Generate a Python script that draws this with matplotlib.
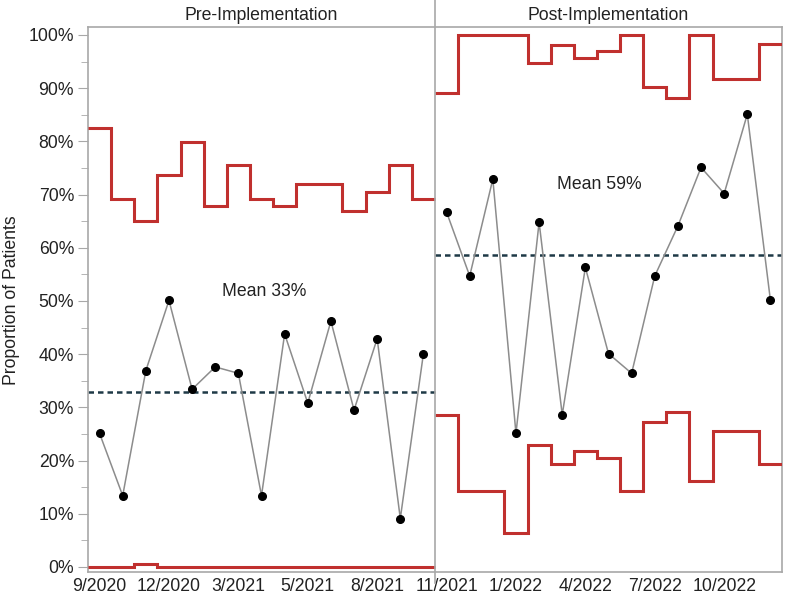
import numpy as np
import matplotlib
matplotlib.use("Agg")
import matplotlib.pyplot as plt
from matplotlib.ticker import MultipleLocator, FuncFormatter
import matplotlib.transforms as mtransforms

plt.rcParams['font.family'] = ['Liberation Sans', 'DejaVu Sans']

# ---- data ----
phases = ["Pre-Implementation", "Post-Implementation"]
pre_values = [25.1, 13.4, 36.9, 50.1, 33.4, 37.6, 36.4, 13.4, 43.8, 30.8, 46.2, 29.5, 42.9, 9.1, 40.1]
post_values = [66.7, 54.7, 72.9, 25.1, 64.8, 28.6, 56.3, 40.1, 36.4, 54.7, 64.1, 75.1, 70.2, 85.1, 50.1]
pre_ucl = [82.6, 69.2, 65.1, 73.7, 79.8, 67.9, 75.5, 69.2, 67.9, 71.9, 71.9, 66.9, 70.4, 75.5, 69.2]
pre_lcl = [0, 0, 0.6, 0, 0, 0, 0, 0, 0, 0, 0, 0, 0, 0, 0]
post_ucl = [89.0, 100, 100, 100, 94.7, 98.2, 95.6, 97.0, 100, 90.3, 88.2, 100, 91.8, 91.8, 98.3]
post_lcl = [28.5, 14.2, 14.2, 6.4, 22.9, 19.3, 21.8, 20.5, 14.2, 27.2, 29.2, 16.2, 25.6, 25.6, 19.3]
pre_mean = 32.8
post_mean = 58.7
mean_labels = ["Mean 33%", "Mean 59%"]
tick_labels = ["9/2020", "12/2020", "3/2021", "5/2021", "8/2021",
               "11/2021", "1/2022", "4/2022", "7/2022", "10/2022"]
tick_index = [0, 3, 6, 9, 12, 15, 18, 21, 24, 27]

W, H = 785, 597
fig = plt.figure(figsize=(W / 100, H / 100), dpi=100)
L, R, T, B = 88, 782, 27, 572
ax = fig.add_axes([L / W, 1 - B / H, (R - L) / W, (B - T) / H])

n_pre = len(pre_values)
n_post = len(post_values)
n = n_pre + n_post

red = "#C0302E"
grid_gray = "#A8A8A8"
txt = "#222222"

x_pre = np.arange(n_pre) + 0.5
x_post = n_pre + np.arange(n_post) + 0.5
edges_pre = np.arange(n_pre + 1)
edges_post = n_pre + np.arange(n_post + 1)

for vals, edges in [(pre_ucl, edges_pre), (pre_lcl, edges_pre),
                    (post_ucl, edges_post), (post_lcl, edges_post)]:
    ax.stairs(vals, edges, baseline=None, color=red, lw=2.2, zorder=3)

ax.plot([0, n_pre], [pre_mean, pre_mean], color="#1E3946", lw=1.8,
        dashes=(2.2, 1.6), zorder=2)
ax.plot([n_pre, n], [post_mean, post_mean], color="#1E3946", lw=1.8,
        dashes=(2.2, 1.6), zorder=2)

for xs, vs in [(x_pre, pre_values), (x_post, post_values)]:
    ax.plot(xs, vs, color="#8C8C8C", lw=1.1, zorder=4)
    ax.plot(xs, vs, 'o', color="black", ms=5.5, zorder=5)

ax.text(7.6, 51.7, mean_labels[0], ha="center", va="center", fontsize=12.7, color=txt)
ax.text(22.1, 71.8, mean_labels[1], ha="center", va="center", fontsize=12.7, color=txt)

ax.set_xlim(0, n)
ax.set_ylim(-0.95, 101.5)

ax.set_xticks(np.array(tick_index) + 0.5)
ax.set_xticklabels(tick_labels, fontsize=12.7, color=txt)
ax.tick_params(axis="x", length=0, pad=4)

ax.yaxis.set_major_locator(MultipleLocator(10))
ax.yaxis.set_minor_locator(MultipleLocator(5))
ax.yaxis.set_major_formatter(FuncFormatter(lambda v, p: f"{int(round(v))}%"))
ax.tick_params(axis="y", which="major", length=7, color=grid_gray, labelsize=12.7,
               labelcolor=txt, pad=3)
ax.tick_params(axis="y", which="minor", length=5, color=grid_gray)

for s in ax.spines.values():
    s.set_color(grid_gray)
    s.set_linewidth(1.2)

# phase divider extending into header and below axis
trans = mtransforms.blended_transform_factory(ax.transData, ax.transAxes)
ax.plot([n_pre, n_pre], [-0.02, T / (B - T) + 1.0], transform=trans,
        color=grid_gray, lw=1.2, clip_on=False, zorder=6)

# phase headers
ax.text(n_pre / 2, 1 + 11 / (B - T), phases[0], transform=trans,
        ha="center", va="center", fontsize=12.7, color=txt)
ax.text(n_pre + n_post / 2, 1 + 11 / (B - T), phases[1], transform=trans,
        ha="center", va="center", fontsize=12.7, color=txt)

fig.text(12 / W, 1 - 300 / H, "Proportion of Patients", rotation=90,
         ha="center", va="center", fontsize=12.7, color=txt)

fig.savefig("out.png", dpi=100)
